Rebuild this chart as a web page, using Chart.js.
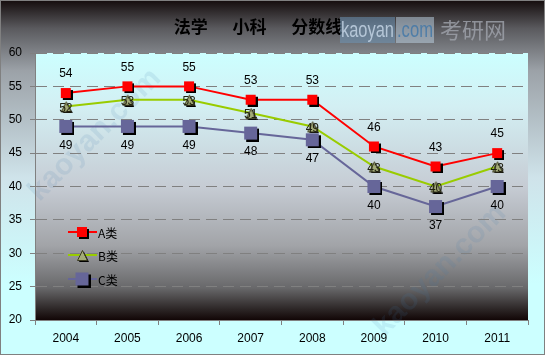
<!DOCTYPE html>
<html>
<head>
<meta charset="utf-8">
<script src="https://cdn.jsdelivr.net/npm/chart.js@4/dist/chart.umd.min.js"></script>
<style>
  html, body { margin: 0; padding: 0; background: #fff; }
  #wrap { width: 545px; height: 355px; position: relative; }
</style>
</head>
<body>
<div id="wrap"><canvas id="chart" width="545" height="355"></canvas></div>
<script>
// 数据
const years = ['2004','2005','2006','2007','2008','2009','2010','2011'];
const seriesNames = ['A类','B类','C类'];
const scoreA = [54, 55, 55, 53, 53, 46, 43, 45];
const scoreB = [52, 53, 53, 51, 49, 43, 40, 43];
const scoreC = [49, 49, 49, 48, 47, 40, 37, 40];
const yTicks = [20, 25, 30, 35, 40, 45, 50, 55, 60];
const titleText = '法学　  小科　  分数线';

const FONT = 'Liberation Sans';
const CJK = 'Noto Sans CJK SC';

// 带阴影的点标记
function makeMarker(kind, size, fill, stroke) {
  const d = 2;
  const c = document.createElement('canvas');
  c.width = c.height = size + 2 * d;
  const g = c.getContext('2d');
  const shape = (x, y) => {
    g.beginPath();
    if (kind === 'tri') {
      g.moveTo(x + size / 2, y);
      g.lineTo(x + size, y + size);
      g.lineTo(x, y + size);
      g.closePath();
    } else {
      g.rect(x, y, size, size);
    }
  };
  g.fillStyle = '#000';
  shape(2 * d, 2 * d); g.fill();
  g.fillStyle = fill;
  shape(d, d); g.fill();
  if (stroke) { g.strokeStyle = stroke; g.lineWidth = 1; shape(d + 0.5, d + 0.5); g.stroke(); }
  return c;
}

const markerA = makeMarker('sq', 10, '#ff0000');
const markerB = makeMarker('tri', 10, '#a3ab78', '#3a3a20');
const markerC = makeMarker('sq', 13, '#666699');

const bgPlugin = {
  id: 'bg',
  beforeDraw(chart) {
    const { ctx, width, height, chartArea: a } = chart;
    ctx.save();
    let g = ctx.createLinearGradient(0, 0, 0, height);
    g.addColorStop(0, '#140c0c');
    g.addColorStop(0.08, '#5a5a5e');
    g.addColorStop(0.2, '#9ca2a8');
    g.addColorStop(0.5, '#cfe3ea');
    g.addColorStop(0.8, '#ccffff');
    g.addColorStop(1, '#ccffff');
    ctx.fillStyle = g;
    ctx.fillRect(0, 0, width, height);
    g = ctx.createLinearGradient(0, a.top, 0, a.bottom);
    g.addColorStop(0, '#ccffff');
    g.addColorStop(0.2, '#d3eff3');
    g.addColorStop(0.5, '#c6ccd4');
    g.addColorStop(0.72, '#a2a4a8');
    g.addColorStop(0.88, '#68686a');
    g.addColorStop(0.96, '#2c2626');
    g.addColorStop(1, '#120606');
    ctx.fillStyle = g;
    ctx.fillRect(a.left, a.top, a.right - a.left, a.bottom - a.top);
    ctx.strokeStyle = '#808080';
    ctx.lineWidth = 1;
    ctx.strokeRect(0.5, 0.5, width - 1, height - 1);

    // 水印
    ctx.globalAlpha = 0.12;
    ctx.fillStyle = '#3f7fb0';
    ctx.font = 'bold 30px ' + FONT;
    [[95, 135], [440, 270]].forEach(([x, y]) => {
      ctx.save();
      ctx.translate(x, y);
      ctx.rotate(-Math.PI / 4);
      ctx.textAlign = 'center';
      ctx.textBaseline = 'middle';
      ctx.fillText('kaoyan.com', 0, 0);
      ctx.restore();
    });
    ctx.restore();
  }
};

const overlayPlugin = {
  id: 'overlay',
  afterDatasetsDraw(chart) {
    const { ctx } = chart;
    ctx.save();
    // 数据标签
    const offs = [-19, 2, 19];
    ctx.font = '12px ' + FONT;
    ctx.textAlign = 'center';
    ctx.textBaseline = 'middle';
    chart.data.datasets.forEach((ds, i) => {
      chart.getDatasetMeta(i).data.forEach((pt, j) => {
        ctx.fillStyle = i === 1 ? '#202010' : '#000';
        ctx.fillText(String(ds.data[j]), pt.x, pt.y + offs[i]);
      });
    });
    // 图例
    const ly = [232, 255, 279];
    chart.data.datasets.forEach((ds, i) => {
      ctx.strokeStyle = ds.borderColor;
      ctx.lineWidth = 2;
      ctx.beginPath();
      ctx.moveTo(68, ly[i]);
      ctx.lineTo(97, ly[i]);
      ctx.stroke();
      const m = ds.pointStyle;
      ctx.drawImage(m, 82 - m.width / 2, ly[i] - m.height / 2);
      ctx.fillStyle = '#000';
      ctx.textAlign = 'left';
      ctx.font = '12px ' + CJK;
      ctx.fillText(ds.label, 98, ly[i] + 1);
    });
    ctx.restore();
  },
  afterDraw(chart) {
    const { ctx } = chart;
    ctx.save();
    // 标题
    ctx.fillStyle = '#000';
    ctx.font = 'bold 17px ' + CJK;
    ctx.textAlign = 'center';
    ctx.textBaseline = 'middle';
    ctx.fillText(titleText, 258, 27);
    // 右上水印
    ctx.globalAlpha = 0.5;
    ctx.fillStyle = '#6e98bc';
    ctx.fillRect(340, 17, 55, 26);
    ctx.fillStyle = '#c0d6e8';
    ctx.fillRect(396, 17, 38, 26);
    ctx.globalAlpha = 0.8;
    ctx.font = '22px ' + FONT;
    ctx.textAlign = 'left';
    ctx.fillStyle = '#c8d8e8';
    ctx.fillText('kaoyan', 341, 31, 53);
    ctx.fillStyle = '#3f75a8';
    ctx.fillText('.com', 397, 31, 36);
    ctx.fillStyle = '#a0a4ac';
    ctx.font = '22px ' + CJK;
    ctx.fillText('考研网', 440, 30, 66);
    ctx.restore();
  }
};

new Chart(document.getElementById('chart'), {
  type: 'line',
  data: {
    labels: years,
    datasets: [
      { label: seriesNames[0], data: scoreA, borderColor: '#ff0000', borderWidth: 2, pointStyle: markerA },
      { label: seriesNames[1], data: scoreB, borderColor: '#99cc00', borderWidth: 2, pointStyle: markerB },
      { label: seriesNames[2], data: scoreC, borderColor: '#666699', borderWidth: 2, pointStyle: markerC }
    ]
  },
  options: {
    responsive: false,
    animation: false,
    events: [],
    layout: { padding: { top: 53, right: 17, left: 0, bottom: 0 } },
    elements: { line: { tension: 0 }, point: { radius: 6 } },
    plugins: { legend: { display: false }, title: { display: false }, tooltip: { enabled: false } },
    scales: {
      x: {
        offset: true,
        grid: { drawOnChartArea: false, offset: true, tickLength: 5, color: '#808080' },
        border: { color: '#808080' },
        ticks: { color: '#000', font: { family: FONT, size: 12 }, padding: 6, maxRotation: 0 },
        afterFit: s => { s.height = 35; }
      },
      y: {
        min: 20, max: 60,
        afterBuildTicks: s => { s.ticks = yTicks.map(v => ({ value: v })); },
        grid: { color: '#808080', tickLength: 5, tickBorderDash: [0, 0] },
        border: { color: '#808080', dash: [11, 6] },
        ticks: { color: '#000', font: { family: FONT, size: 12 }, padding: 8 },
        afterFit: s => { s.width = 35; }
      }
    }
  },
  plugins: [bgPlugin, overlayPlugin]
});
</script>
</body>
</html>
